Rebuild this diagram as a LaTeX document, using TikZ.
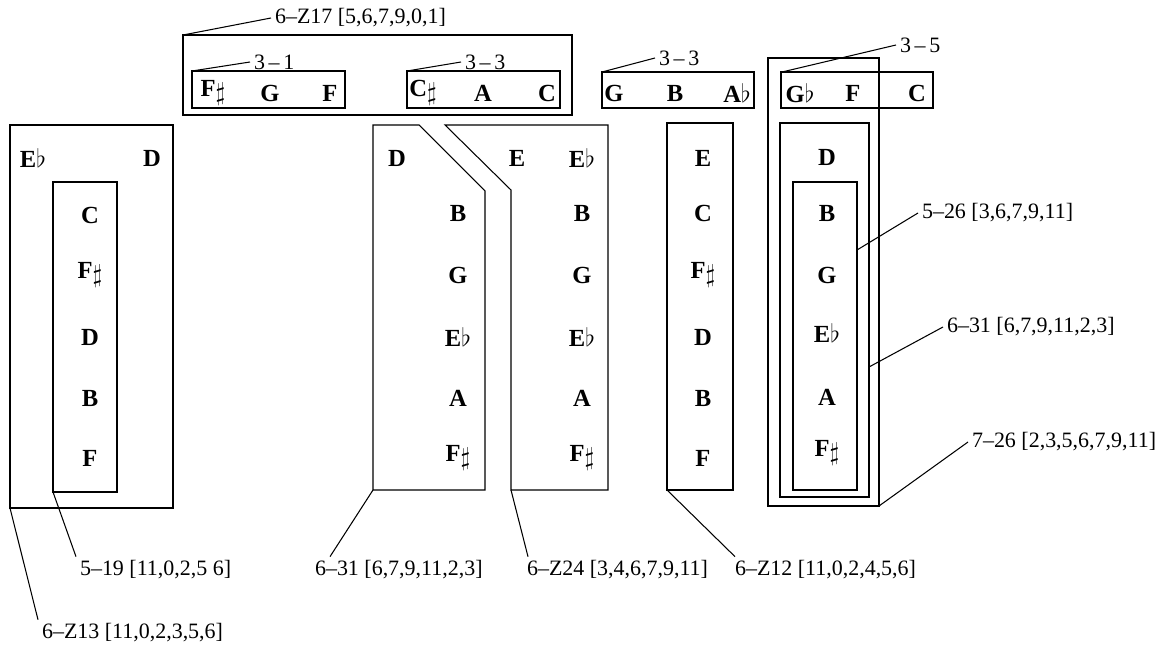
\documentclass[tikz,border=0pt]{standalone}
\usepackage{fontspec}
\setmainfont{Liberation Serif}
\usetikzlibrary{calc}
\newcommand{\nsharp}{\raisebox{-0.35ex}{\ensuremath{\sharp}}}
\newcommand{\nflat}{\ensuremath{\flat}}

\begin{document}
\begin{tikzpicture}[x=0.02cm,y=-0.02cm,line width=0.6pt,
  note/.style={font=\fontsize{14}{14}\selectfont\bfseries,inner sep=0pt},
  lab/.style={font=\fontsize{12.5}{13}\selectfont,inner sep=2pt,anchor=west}]
  \useasboundingbox (0,0) rectangle (1170,648);
  % top row of trichords
  \draw (183,35) rectangle (572,115);
  \draw (192,71) rectangle (345,108) (407,71) rectangle (560,108);
  \draw (602,72) rectangle (754,108) (781,72) rectangle (933,108);
  \path (213,93) node[note] (t1) {F\nsharp} (270,93) node[note] (t2) {G} (330,93) node[note] (t3) {F}
  (423,93) node[note] (t4) {C\nsharp} (483,93) node[note] (t5) {A} (547,93) node[note] (t6) {C}
  (614,93) node[note] (t7) {G} (675,93) node[note] (t8) {B} (737,93) node[note] (t9) {A\nflat}
  (800,93) node[note] (t10) {G\nflat} (853,93) node[note] (t11) {F} (917,93) node[note] (t12) {C};
  \path (271,18) node[lab] (lz17) {6--Z17 [5,6,7,9,0,1]}
  (250,62) node[lab] (l31) {3\,--\,1} (461,62) node[lab] (l33a) {3\,--\,3}
  (655,58) node[lab] (l33b) {3\,--\,3} (896,45) node[lab] (l35) {3\,--\,5};
  \draw (183,35) -- (lz17.west);
  \draw (192,71) -- (l31.west);
  \draw (407,71) -- (l33a.west);
  \draw (602,72) -- (l33b.west);
  \draw (782,72) -- (l35.west);
  % left column
  \draw (10,125) rectangle (173,508);
  \draw (53,182) rectangle (117,492);
  \path (33,158) node[note] (a0) {E\nflat} (152,158) node[note] (a1) {D}
  (90,215) node[note] (a2) {C} (90,275) node[note] (a3) {F\nsharp} (90,337) node[note] (a4) {D}
  (90,398) node[note] (a5) {B} (90,458) node[note] (a6) {F};
  \path (76,570) node[lab] (l519) {5--19 [11,0,2,5 6]}
  (38,633) node[lab] (lz13) {6--Z13 [11,0,2,3,5,6]};
  \draw (53,492) -- (l519.north west);
  \draw (10,508) -- (lz13.north west);
  % the two hexachords that share the middle
  \draw (373,125) -- (419,125) -- (485,191) -- (485,490) -- (373,490) -- cycle;
  \draw (445,125) -- (608,125) -- (608,490) -- (511,490) -- (511,190) -- cycle;
  \path (397,158) node[note] (b0) {D} (517,158) node[note] (c0) {E} (582,158) node[note] (c1) {E\nflat};
  \foreach \n/\y [count=\i] in {B/213,G/275,E\nflat/337,A/398,F\nsharp/458}{
    \path (458,\y) node[note] (b\i) {\n} (582,\y) node[note] (c\i+1) {\n};
  }
  \draw (667,123) rectangle (733,490);
  \foreach \n/\y [count=\i] in {E/158,C/213,F\nsharp/275,D/337,B/398,F/458}
    \path (703,\y) node[note] (d\i) {\n};
  \path (311,570) node[lab] (l631a) {6--31 [6,7,9,11,2,3]}
  (523,570) node[lab] (lz24) {6--Z24 [3,4,6,7,9,11]}
  (731,570) node[lab] (lz12) {6--Z12 [11,0,2,4,5,6]};
  \draw (373,490) -- ($(l631a.north west)+(19,0)$);
  \draw (511,490) -- ($(lz24.north west)+(5,0)$);
  \draw (667,490) -- ($(lz12.north west)+(4,0)$);
  % nested boxes on the right
  \draw (768,58) rectangle (879,506);
  \draw (780,123) rectangle (869,497);
  \draw (793,182) rectangle (857,490);
  \foreach \n/\y [count=\i] in {D/157,B/213,G/275,E\nflat/333,A/397,F\nsharp/453}
    \path (827,\y) node[note] (e\i) {\n};
  \path (918,213) node[lab] (l526) {5--26 [3,6,7,9,11]}
  (943,327) node[lab] (l631b) {6--31 [6,7,9,11,2,3]}
  (968,442) node[lab] (l726) {7--26 [2,3,5,6,7,9,11]};
  \draw (857,250) -- (l526.west);
  \draw (869,367) -- (l631b.west);
  \draw (879,506) -- (l726.west);
\end{tikzpicture}
\end{document}
